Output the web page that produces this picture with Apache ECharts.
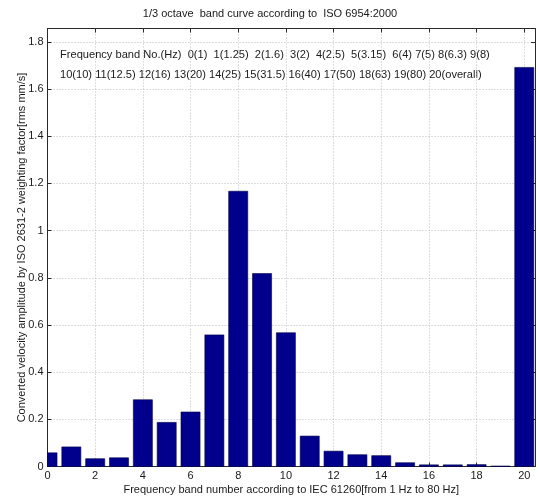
<!DOCTYPE html>
<html>
<head>
<meta charset="utf-8">
<title>1/3 octave band curve</title>
<script src="https://cdn.jsdelivr.net/npm/echarts@6/dist/echarts.min.js"></script>
<style>
  html, body { margin: 0; padding: 0; background: #fff; }
  #chart { width: 540px; height: 499px; }
</style>
</head>
<body>
<div id="chart"></div>
<script>
// Band numbers (IEC 61260, 1 Hz .. 80 Hz, plus overall at 20)
const bands = [0, 1, 2, 3, 4, 5, 6, 7, 8, 9, 10, 11, 12, 13, 14, 15, 16, 17, 18, 19, 20];
// Weighted velocity amplitude per band [rms mm/s]
const amplitudes = [0.058, 0.083, 0.033, 0.037, 0.283, 0.187, 0.231, 0.558, 1.167, 0.818,
                    0.567, 0.129, 0.065, 0.050, 0.046, 0.016, 0.007, 0.007, 0.008, 0.002, 1.692];
// Legend text: band number with its centre frequency
const bandLegendLine1 = 'Frequency band No.(Hz)  0(1)  1(1.25)  2(1.6)  3(2)  4(2.5)  5(3.15)  6(4) 7(5) 8(6.3) 9(8)';
const bandLegendLine2 = '10(10) 11(12.5) 12(16) 13(20) 14(25) 15(31.5) 16(40) 17(50) 18(63) 19(80) 20(overall)';
const xTicks = [0, 2, 4, 6, 8, 10, 12, 14, 16, 18, 20];
const yTicks = [0, 0.2, 0.4, 0.6, 0.8, 1, 1.2, 1.4, 1.6, 1.8];

const X_MAX = 20.45, Y_MAX = 1.857;
const FONT = 'Liberation Sans, Arial, sans-serif';
const TXT = '#1a1a1a';

function onTick(list) {
  return v => list.some(t => Math.abs(t - v) < 1e-6) ? String(v) : '';
}

const chart = echarts.init(document.getElementById('chart'), null, { renderer: 'canvas' });

const gridLine = { show: true, lineStyle: { color: '#bdbdbd', type: [1, 2], width: 1 } };
const boxLine = { show: true, onZero: false, lineStyle: { color: '#2a2a2a', width: 1 } };
const tickIn = { show: true, inside: true, length: 4, lineStyle: { color: '#2a2a2a' } };

chart.setOption({
  backgroundColor: '#fff',
  animation: false,
  grid: { left: 47.5, right: 5, top: 28.5, bottom: 32.5, outerBoundsMode: 'none', containLabel: false },
  xAxis: [{
    type: 'value', min: 0, max: X_MAX, interval: 2, position: 'bottom',
    axisLine: boxLine, axisTick: tickIn, splitLine: gridLine,
    axisLabel: { color: TXT, fontFamily: FONT, fontSize: 11, margin: 4, formatter: onTick(xTicks) },
    name: 'Frequency band number according to IEC 61260[from 1 Hz to 80 Hz]',
    nameLocation: 'middle', nameGap: 18, nameMoveOverlap: false,
    nameTextStyle: { color: TXT, fontFamily: FONT, fontSize: 11 }
  }, {
    type: 'value', min: 0, max: X_MAX, interval: 2, position: 'top',
    axisLine: boxLine, axisTick: tickIn, splitLine: { show: false },
    axisLabel: { show: false }
  }],
  yAxis: [{
    type: 'value', min: 0, max: Y_MAX, interval: 0.2, position: 'left',
    axisLine: boxLine, axisTick: tickIn, splitLine: gridLine,
    axisLabel: { color: TXT, fontFamily: FONT, fontSize: 11, margin: 4, formatter: onTick(yTicks) },
    name: 'Converted velocity amplitude by ISO 2631-2 weighting factor[rms mm/s]',
    nameLocation: 'middle', nameGap: 20, nameRotate: 90, nameMoveOverlap: false,
    nameTextStyle: { color: TXT, fontFamily: FONT, fontSize: 11 }
  }, {
    type: 'value', min: 0, max: Y_MAX, interval: 0.2, position: 'right',
    axisLine: boxLine, axisTick: tickIn, splitLine: { show: false },
    axisLabel: { show: false }
  }],
  graphic: [
    { type: 'text', left: 'center', top: 8, x: 21,
      style: { text: '1/3 octave  band curve according to  ISO 6954:2000', fill: TXT, font: '11px ' + FONT } },
    { type: 'text', left: 60, top: 49,
      style: { text: bandLegendLine1, fill: TXT, font: '11.1px ' + FONT } },
    { type: 'text', left: 60, top: 69,
      style: { text: bandLegendLine2, fill: TXT, font: '11.1px ' + FONT } }
  ],
  series: [{
    type: 'custom',
    xAxisIndex: 0, yAxisIndex: 0,
    data: bands.map((b, i) => [b, amplitudes[i]]),
    renderItem: function (params, api) {
      const x = api.value(0), y = api.value(1);
      const base = api.coord([x, 0]);
      const top = api.coord([x, y]);
      const w = api.size([0.8, 0])[0];
      const rect = echarts.graphic.clipRectByRect(
        { x: base[0] - w / 2, y: top[1], width: w, height: base[1] - top[1] },
        { x: params.coordSys.x, y: params.coordSys.y, width: params.coordSys.width, height: params.coordSys.height }
      );
      if (!rect) return null;
      return {
        type: 'rect', shape: rect,
        style: { fill: '#00008c', stroke: '#00004a', lineWidth: 0.6 }
      };
    }
  }]
});
</script>
</body>
</html>
